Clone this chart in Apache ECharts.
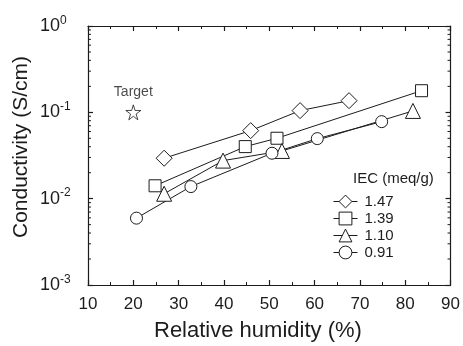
<!DOCTYPE html>
<html>
<head>
<meta charset="utf-8">
<script src="https://cdn.jsdelivr.net/npm/echarts@6/dist/echarts.min.js"></script>
<style>
  html, body { margin: 0; padding: 0; background: #fff; }
  #chart { width: 463px; height: 346px; }
</style>
</head>
<body>
<div id="chart"></div>
<script>
// Proton conductivity vs. relative humidity for membranes of different IEC
const iecLabels = ['1.47', '1.39', '1.10', '0.91'];
const rh147 = [26.8, 45.9, 56.8, 67.6];
const sigma147 = [0.0294, 0.0614, 0.1047, 0.1365];
const rh139 = [24.8, 44.7, 51.7, 83.6];
const sigma139 = [0.0141, 0.0401, 0.0501, 0.178];
const rh110 = [26.8, 39.8, 52.8, 81.7];
const sigma110 = [0.0114, 0.0276, 0.0357, 0.1038];
const rh091 = [20.7, 32.7, 50.6, 60.6, 74.8];
const sigma091 = [0.00595, 0.0138, 0.0336, 0.0496, 0.078];
const targetPoint = [20, 0.1];
const xTicks = [10, 20, 30, 40, 50, 60, 70, 80, 90];
const yDecades = [0.001, 0.01, 0.1, 1];
// log-axis minor ticks (2..9 in each decade)
const yMinor = [];
for (let d = -3; d < 0; d++) {
  for (let m = 2; m <= 9; m++) yMinor.push(m * Math.pow(10, d));
}

const pair = (xs, ys) => xs.map((x, i) => [x, ys[i]]);
const ink = '#1c1c1c';
const font = 'Liberation Sans, Arial, sans-serif';

const chart = echarts.init(document.getElementById('chart'));

const lineSeries = (name, symbol, size, xs, ys) => ({
  name: name,
  type: 'line',
  data: pair(xs, ys),
  symbol: symbol,
  symbolSize: size,
  showSymbol: true,
  lineStyle: { color: ink, width: 1 },
  itemStyle: { color: '#fff', borderColor: ink, borderWidth: 1 },
  emphasis: { disabled: true },
  z: 3
});

const axisCommon = {
  min: xTicks[0],
  max: xTicks[xTicks.length - 1],
  interval: 10,
  axisLine: { show: true, onZero: false, lineStyle: { color: ink, width: 1.2 } },
  axisTick: { show: true, inside: true, length: 5, lineStyle: { color: ink, width: 1.2 } },
  minorTick: { show: true, splitNumber: 2, length: 3, lineStyle: { color: ink, width: 1 } },
  splitLine: { show: false }
};

const yCommon = {
  type: 'log',
  logBase: 10,
  min: yDecades[0],
  max: yDecades[yDecades.length - 1],
  axisLine: { show: true, onZero: false, lineStyle: { color: ink, width: 1.2 } },
  axisTick: { show: true, inside: true, length: 5, lineStyle: { color: ink, width: 1.2 } },
  splitLine: { show: false }
};

chart.setOption({
  animation: false,
  backgroundColor: '#fff',
  grid: { left: 88, right: 12, top: 26, bottom: 61, containLabel: false },
  xAxis: [
    Object.assign({}, axisCommon, {
      type: 'value',
      position: 'bottom',
      axisLabel: { show: true, margin: 11, color: ink, fontSize: 17, fontFamily: font }
    }),
    Object.assign({}, axisCommon, {
      type: 'value',
      position: 'top',
      axisLabel: { show: false }
    })
  ],
  yAxis: [
    Object.assign({}, yCommon, {
      position: 'left',
      axisLabel: {
        show: true,
        margin: 48,
        align: 'left',
        color: ink,
        fontFamily: font,
        formatter: v => '{b|10}{s|' + Math.round(Math.log10(v)) + '}',
        rich: {
          b: { fontSize: 18, color: ink, fontFamily: font },
          s: { fontSize: 12, color: ink, fontFamily: font, padding: [0, 0, 11, 0] }
        }
      }
    }),
    Object.assign({}, yCommon, {
      position: 'right',
      axisLabel: { show: false }
    })
  ],
  legend: {
    data: iecLabels,
    orient: 'vertical',
    left: 328,
    top: 189,
    itemWidth: 24,
    itemHeight: 16,
    itemGap: 2,
    itemStyle: { color: '#fff', borderColor: ink, borderWidth: 1 },
    lineStyle: { color: ink, width: 1 },
    textStyle: { fontSize: 15, color: ink, fontFamily: font, padding: [0, 0, 0, 2] },
    selectedMode: false
  },
  graphic: [
    {
      type: 'text',
      left: 353,
      top: 171,
      style: { text: 'IEC (meq/g)', fontSize: 15, fill: ink, fontFamily: font }
    },
    {
      type: 'text',
      left: 154,
      top: 320,
      style: { text: 'Relative humidity (%)', fontSize: 22, fill: ink, fontFamily: font }
    },
    {
      type: 'text',
      x: 21,
      y: 147,
      rotation: Math.PI / 2,
      style: {
        text: 'Conductivity (S/cm)',
        fontSize: 21,
        fill: ink,
        fontFamily: font,
        align: 'center',
        verticalAlign: 'middle'
      }
    }
  ],
  series: [
    lineSeries(iecLabels[0], 'diamond', 16, rh147, sigma147),
    lineSeries(iecLabels[1], 'rect', 12, rh139, sigma139),
    lineSeries(iecLabels[2], 'triangle', 15, rh110, sigma110),
    lineSeries(iecLabels[3], 'circle', 12, rh091, sigma091),
    {
      name: 'Target',
      type: 'scatter',
      data: [targetPoint],
      symbol: 'path://M50,3 L61,38 L98,38 L68,60 L79,96 L50,74 L21,96 L32,60 L2,38 L39,38 Z',
      symbolSize: 15,
      itemStyle: { color: '#fff', borderColor: ink, borderWidth: 1 },
      label: {
        show: true,
        position: 'top',
        distance: 5,
        formatter: 'Target',
        fontSize: 14,
        color: ink,
        fontFamily: font
      },
      emphasis: { disabled: true },
      z: 4
    },
    {
      // minor ticks on both log axes
      type: 'custom',
      silent: true,
      data: yMinor.map(v => [xTicks[0], v]),
      renderItem: function (params, api) {
        const v = api.value(1);
        const pl = api.coord([xTicks[0], v]);
        const pr = api.coord([xTicks[xTicks.length - 1], v]);
        const st = { stroke: ink, lineWidth: 1 };
        return {
          type: 'group',
          children: [
            { type: 'line', shape: { x1: pl[0], y1: pl[1], x2: pl[0] + 3, y2: pl[1] }, style: st },
            { type: 'line', shape: { x1: pr[0] - 3, y1: pr[1], x2: pr[0], y2: pr[1] }, style: st }
          ]
        };
      },
      z: 2
    }
  ]
});
</script>
</body>
</html>
